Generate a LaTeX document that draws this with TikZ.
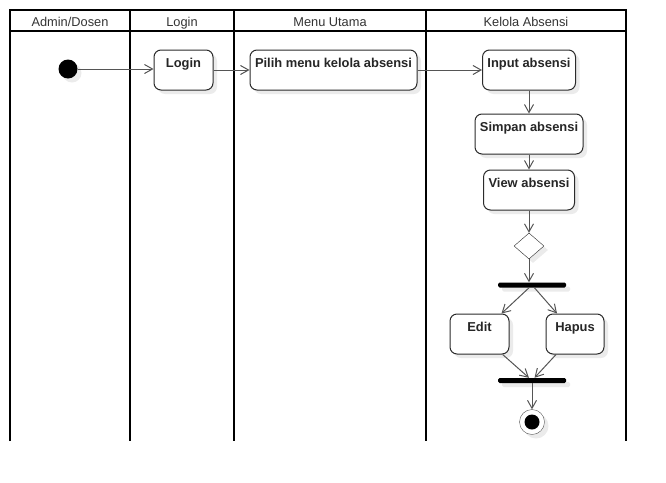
\documentclass[tikz,border=0pt]{standalone}
\usepackage{fontspec}
\setmainfont{Liberation Sans}
\usepackage{tikz}
\usetikzlibrary{arrows.meta, calc, positioning, shapes.geometric, shadows}
\definecolor{garis}{HTML}{555555}
\definecolor{tepi}{HTML}{2B2B2B}
\definecolor{bayang}{HTML}{EBEBEB}

\begin{document}
\begin{tikzpicture}[
    x=1pt, y=-1pt,
    every node/.style={font=\fontsize{12.8}{14}\selectfont},
    lajur/.style={line width=2pt, black},
    judul/.style={text=black!80, inner sep=0pt, anchor=base},
    bayangan/.style={drop shadow={shadow xshift=4pt, shadow yshift=-4pt,
        fill=bayang, opacity=1}},
    aksi/.style={draw=tepi, line width=1pt, fill=white, rounded corners=7pt,
        bayangan, minimum height=40pt, inner sep=0pt, text height=17pt,
        text depth=23pt, font=\fontsize{12.9}{14}\selectfont\bfseries,
        text=black!85},
    mulai/.style={circle, fill=black, minimum size=19pt, inner sep=0pt, bayangan},
    akhir/.style={circle, draw=garis, fill=white, minimum size=25pt, inner sep=0pt,
        bayangan, path picture={\fill[black]
          (path picture bounding box.center) circle (7.5pt);}},
    cabang/.style={diamond, draw=tepi, fill=white, minimum width=30pt,
        minimum height=26pt, inner sep=0pt, bayangan},
    garpu/.style={fill=black, rounded corners=1.5pt, minimum width=68pt,
        minimum height=5pt, inner sep=0pt, bayangan},
    panah/.style={draw=garis, line width=1pt,
        -{Straight Barb[length=8pt, width=9pt]}},
  ]
  \useasboundingbox (0,0) rectangle (666,482);

  % lajur (swimlane)
  \draw[lajur] (10,441) -- (10,10) -- (626,10) -- (626,441);
  \draw[lajur] (10,31) -- (626,31);
  \foreach \x in {130,234,426}
    \draw[lajur] (\x,10) -- (\x,441);

  \node[judul] (jAdmin) at (70,26) {Admin/Dosen};
  \node[judul] (jLogin) at (182,26) {Login};
  \node[judul] (jMenu) at (330,26) {Menu Utama};
  \node[judul] (jKelola) at (526,26) {Kelola Absensi};

  % aktivitas
  \node[mulai] (mulai) at (68,69) {};
  \node[aksi, minimum width=59pt] (login) at (183.5,70) {Login};
  \node[aksi, minimum width=167pt] (pilih) at (333.5,70) {Pilih menu kelola absensi};
  \node[aksi, minimum width=93pt] (input) at (529,70) {Input absensi};
  \node[aksi, minimum width=108pt] (simpan) at (529,134) {Simpan absensi};
  \node[aksi, minimum width=91pt] (lihat) at (529,190) {View absensi};
  \node[cabang] (cabang) at (529,246) {};
  \node[garpu] (garpu1) at (532,285) {};
  \node[aksi, minimum width=59pt] (edit) at (479.5,334) {Edit};
  \node[aksi, minimum width=58pt] (hapus) at (575,334) {Hapus};
  \node[garpu] (garpu2) at (532,380.5) {};
  \node[akhir] (akhir) at (532,422) {};

  % alur
  \draw[panah] (mulai) -- (mulai -| login.west);
  \draw[panah] (login) -- (pilih);
  \draw[panah] (pilih) -- (input);
  \draw[panah] (input) -- (simpan);
  \draw[panah] (simpan) -- (lihat);
  \draw[panah] (lihat) -- (cabang);
  \draw[panah] (cabang) -- (cabang |- garpu1.north);
  \draw[panah] (garpu1) -- (edit);
  \draw[panah] (garpu1) -- (hapus);
  \draw[panah] (edit) -- (garpu2);
  \draw[panah] (hapus) -- (garpu2);
  \draw[panah] (garpu2) -- (akhir);
\end{tikzpicture}
\end{document}
